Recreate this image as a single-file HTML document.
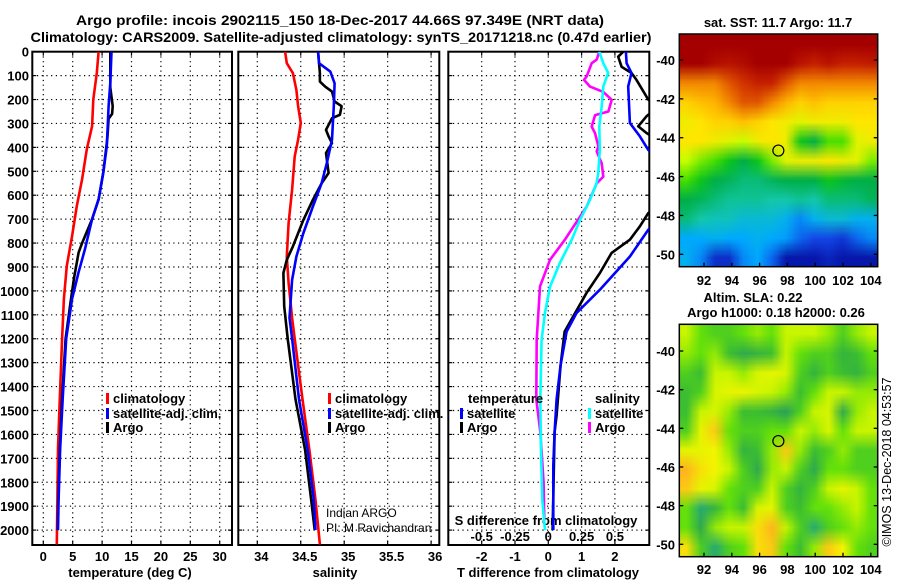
<!DOCTYPE html>
<html><head><meta charset="utf-8"><style>
html,body{margin:0;padding:0;background:#fff;}
#wrap{position:relative;width:900px;height:580px;overflow:hidden;font-family:"Liberation Sans",Arial,sans-serif;}
svg text{font-family:"Liberation Sans",Arial,sans-serif;}
canvas{position:absolute;}
</style></head><body>
<div id="wrap">
<svg id="svg" width="900" height="580" viewBox="0 0 900 580" xmlns="http://www.w3.org/2000/svg">
<text x="340" y="25" text-anchor="middle" font-size="14" font-weight="bold" textLength="528" lengthAdjust="spacingAndGlyphs">Argo profile: incois 2902115_150 18-Dec-2017 44.66S 97.349E (NRT data)</text>
<text x="341" y="42" text-anchor="middle" font-size="14" font-weight="bold" textLength="621" lengthAdjust="spacingAndGlyphs">Climatology: CARS2009. Satellite-adjusted climatology: synTS_20171218.nc (0.47d earlier)</text>
<g id="g"></g>
</svg>
<canvas id="sst" width="199" height="233" style="left:679px;top:34px;width:199px;height:233px"></canvas>
<canvas id="sla" width="199" height="232" style="left:679px;top:324px;width:199px;height:232px"></canvas>
<svg width="900" height="580" style="position:absolute;left:0;top:0" xmlns="http://www.w3.org/2000/svg"><g id="g2"></g></svg>
</div>
<script>
// ---- data ----
const depthTicks = [0,100,200,300,400,500,600,700,800,900,1000,1100,1200,1300,1400,1500,1600,1700,1800,1900,2000];
const tempTicks = [0,5,10,15,20,25,30];
const salTicks = [34,34.5,35,35.5,36];
const salTickLabels = ["34","34.5","35","35.5","36"];
const tdTicks = [-2,-1,0,1,2];
const sdTicks = [-0.5,-0.25,0,0.25,0.5];
const sdTickLabels = ["-0.5","-0.25","0","0.25","0.5"];

const tempClimDepth = [0,89,200,311,408,533,645,770,895,1033,1200,1450,1658,1867,2060];
const tempClim = [9.4,9.1,8.5,8.3,7.4,6.6,5.7,4.9,4.0,3.5,3.2,2.8,2.5,2.4,2.3];
const tempSatDepth = [0,130,228,395,505,617,700,825,922,1033,1200,1450,1665,1874,2000];
const tempSat = [11.6,11.4,11.1,10.8,10.2,9.4,8.3,7.1,6.0,4.9,3.9,3.3,2.85,2.6,2.5];
const tempArgoDepth = [0,150,228,260,280,360,505,617,700,800,840,950,1055,1200,1450,1665,1874,2000];
const tempArgo = [11.4,11.4,11.8,11.7,11.1,10.9,10.2,9.4,8.3,6.6,6.0,5.2,4.6,3.8,3.2,2.8,2.55,2.45];

const salClimDepth = [0,48,90,160,228,298,368,438,577,716,856,967,1113,1200,1453,1665,1874,2060];
const salClim = [34.32,34.34,34.41,34.45,34.47,34.50,34.47,34.43,34.40,34.36,34.34,34.36,34.40,34.43,34.52,34.60,34.67,34.72];
const salSatDepth = [0,48,83,132,228,368,466,550,647,758,856,954,1113,1200,1453,1665,1874,2000];
const salSat = [34.70,34.71,34.84,34.89,34.88,34.86,34.80,34.74,34.64,34.53,34.45,34.40,34.37,34.40,34.48,34.58,34.65,34.67];
const salArgoDepth = [0,90,125,146,167,208,228,264,278,327,354,382,424,507,550,619,703,814,870,925,1064,1200,1453,1665,1874,2000];
const salArgo = [34.70,34.72,34.72,34.78,34.86,34.89,34.97,34.95,34.86,34.79,34.82,34.86,34.79,34.82,34.74,34.64,34.53,34.41,34.34,34.30,34.31,34.35,34.44,34.55,34.62,34.66];

const tdSatDepth = [0,48,89,145,298,354,410,450,700,745,856,995,1092,1170,1310,1453,1590,1730,2000];
const tdSat = [2.33,2.35,2.5,2.4,2.45,2.75,3.0,3.3,3.3,3.0,2.45,1.55,0.85,0.55,0.37,0.25,0.19,0.15,0.15];
const tdArgoDepth = [0,21,63,89,118,200,230,270,312,340,370,640,675,730,786,841,925,1008,1106,1170,1310,1520,1590,2000];
const tdArgo = [2.25,2.1,2.2,2.5,2.65,3.0,3.3,2.95,2.7,2.95,3.3,3.3,3.0,2.75,2.45,1.9,1.55,1.15,0.75,0.49,0.37,0.25,0.19,0.13];
const sdSatDepth = [0,48,89,145,229,312,410,505,548,619,703,786,882,982,1092,1205,1453,1665,1874,2000];
const sdSat = [0.383,0.413,0.45,0.413,0.401,0.383,0.387,0.375,0.363,0.313,0.238,0.176,0.088,0.013,-0.025,-0.05,-0.06,-0.055,-0.045,-0.025];
const sdArgoDepth = [0,33,48,103,118,146,168,201,250,265,313,341,396,417,466,522,550,647,786,870,981,1204,1453,1590,1800,1960];
const sdArgo = [0.383,0.363,0.326,0.288,0.268,0.313,0.413,0.476,0.451,0.351,0.326,0.351,0.376,0.363,0.401,0.413,0.363,0.288,0.125,0.013,-0.062,-0.087,-0.09,-0.06,-0.035,-0.03];

const latTicks = [-40,-42,-44,-46,-48,-50];
const lonTicks = [92,94,96,98,100,102,104];
const argoLon = 97.35, argoLat = -44.66;
const sstGrid = [
[1,1,1,1,1,1,1,1,1,1,1,1,1,1],
[1,1,0.98,0.97,0.98,1,1,1,0.97,0.95,0.97,0.95,0.95,0.96],
[0.85,0.85,0.85,0.9,0.93,0.95,0.95,0.9,0.85,0.85,0.85,0.85,0.85,0.85],
[0.75,0.78,0.8,0.85,0.9,0.9,0.85,0.8,0.75,0.78,0.75,0.75,0.75,0.75],
[0.7,0.72,0.75,0.75,0.78,0.75,0.72,0.7,0.68,0.7,0.7,0.7,0.72,0.72],
[0.72,0.72,0.7,0.68,0.65,0.7,0.72,0.7,0.55,0.5,0.6,0.6,0.68,0.7],
[0.65,0.62,0.6,0.55,0.5,0.55,0.62,0.68,0.7,0.7,0.72,0.7,0.68,0.62],
[0.6,0.55,0.5,0.48,0.45,0.45,0.48,0.5,0.5,0.5,0.55,0.52,0.5,0.5],
[0.5,0.48,0.45,0.42,0.42,0.42,0.4,0.4,0.42,0.4,0.45,0.45,0.45,0.48],
[0.45,0.4,0.38,0.38,0.35,0.35,0.35,0.32,0.25,0.32,0.35,0.35,0.32,0.32],
[0.3,0.3,0.32,0.3,0.3,0.32,0.3,0.28,0.2,0.15,0.15,0.12,0.2,0.25],
[0.32,0.25,0.1,0.1,0.25,0.3,0.2,0.05,0.05,0.05,0.08,0.05,0.05,0.05]];
const slaGrid = [
[0.6,0.5,0.45,0.45,0.5,0.55,0.5,0.6,0.6,0.6,0.55,0.45,0.55,0.6],
[0.55,0.5,0.55,0.4,0.3,0.35,0.4,0.6,0.5,0.45,0.45,0.35,0.4,0.5],
[0.45,0.4,0.6,0.6,0.55,0.65,0.7,0.65,0.45,0.35,0.45,0.4,0.35,0.45],
[0.4,0.45,0.65,0.7,0.72,0.65,0.6,0.55,0.4,0.5,0.6,0.6,0.55,0.55],
[0.4,0.6,0.65,0.55,0.4,0.4,0.35,0.25,0.45,0.6,0.65,0.3,0.55,0.6],
[0.45,0.7,0.85,0.5,0.45,0.45,0.5,0.5,0.6,0.55,0.65,0.5,0.6,0.6],
[0.7,0.7,0.75,0.55,0.35,0.4,0.55,0.85,0.55,0.4,0.45,0.55,0.45,0.45],
[0.9,0.8,0.75,0.6,0.45,0.3,0.55,0.6,0.45,0.3,0.5,0.5,0.45,0.45],
[0.85,0.7,0.65,0.5,0.45,0.45,0.6,0.45,0.35,0.45,0.6,0.7,0.6,0.5],
[0.5,0.2,0.35,0.5,0.4,0.65,0.7,0.45,0.4,0.5,0.5,0.55,0.6,0.5],
[0.5,0.3,0.55,0.6,0.6,0.8,0.9,0.6,0.45,0.2,0.45,0.5,0.55,0.5],
[0.8,0.45,0.2,0.45,0.5,0.8,0.85,0.5,0.4,0.55,0.85,0.75,0.5,0.45]];

// ---- geometry ----
const NS='http://www.w3.org/2000/svg';
const g=document.getElementById('g'), g2=document.getElementById('g2');
const PT=51.7, PB=545;
const yD = d => PT + d*0.2392;
const xT = t => 43.3 + t*5.88;
const xS = s => 257.3 + (s-34)*86.9;
const xTD = t => 548.3 + t*33.3;
const xSD = s => 548.3 + s*133.2;
const panels = [[32.3,232],[238.3,439.3],[448.3,649.3]];
function el(tag,attrs,parent){const e=document.createElementNS(NS,tag);for(const k in attrs)e.setAttribute(k,attrs[k]);(parent||g).appendChild(e);return e;}
function txt(x,y,s,attrs,parent){const e=el('text',Object.assign({x:x,y:y,'font-size':13,'font-weight':'bold'},attrs||{}),parent);e.textContent=s;return e;}

// grids and frames
const gridX=[tempTicks.map(xT), salTicks.map(xS), tdTicks.map(xTD)];
panels.forEach((p,i)=>{
  const pg=el('g',{});
  
  
  el('clipPath',{id:'clip'+i},pg);
  el('rect',{x:p[0],y:PT,width:p[1]-p[0],height:PB-PT},pg.lastChild);
  depthTicks.forEach(d=>{ if(d>0){
    const l=el('line',{x1:p[0],x2:p[1],y1:yD(d),y2:yD(d),stroke:'#000','stroke-width':1.2,'stroke-dasharray':'1.2,3.5'},pg);
    
    
    el('line',{x1:p[0],x2:p[0]+4,y1:yD(d),y2:yD(d),stroke:'#000','stroke-width':1.2},pg);
    el('line',{x1:p[1]-4,x2:p[1],y1:yD(d),y2:yD(d),stroke:'#000','stroke-width':1.2},pg);
  }});
  gridX[i].forEach(x=>{
    const l=el('line',{x1:x,x2:x,y1:PT,y2:PB,stroke:'#000','stroke-width':1.2,'stroke-dasharray':'1.2,3.5'},pg);
    
    
    el('line',{x1:x,x2:x,y1:PB-4,y2:PB,stroke:'#000','stroke-width':1.2},pg);
    el('line',{x1:x,x2:x,y1:PT,y2:PT+4,stroke:'#000','stroke-width':1.2},pg);
  });
  const fr=el('rect',{x:p[0],y:PT,width:p[1]-p[0],height:PB-PT,fill:'none',stroke:'#000','stroke-width':2},pg);
  
  
});
// depth labels
depthTicks.forEach(d=>{
  const t=txt(29,yD(d)+5,String(d),{'text-anchor':'end'});
  
  
});
tempTicks.forEach(v=>{const t=txt(xT(v),561,String(v),{'text-anchor':'middle'});
  
  });
salTicks.forEach((v,i)=>{const t=txt(xS(v)+4,561,salTickLabels[i],{'text-anchor':'middle'});
  
  });
tdTicks.forEach(v=>{const t=txt(xTD(v),561,String(v),{'text-anchor':'middle'});
  
  });
sdTicks.forEach((v,i)=>{const t=txt(xSD(v),541,sdTickLabels[i],{'text-anchor':'middle'});
  
  });
let t;
t=txt(130,577,'temperature (deg C)',{'text-anchor':'middle'});


t=txt(335,577,'salinity',{'text-anchor':'middle'});


t=txt(548,577,'T difference from climatology',{'text-anchor':'middle'});


t=txt(546,525,'S difference from climatology',{'text-anchor':'middle'});


t=txt(326,517,'Indian ARGO',{'font-weight':'normal','font-size':12});


t=txt(326,532,'PI: M Ravichandran',{'font-weight':'normal','font-size':12});



// series
function series(depths,vals,xf,color,panel,name){
  const pts=depths.map((d,i)=>xf(vals[i]).toFixed(1)+','+yD(d).toFixed(1)).join(' ');
  const p=el('polyline',{points:pts,fill:'none',stroke:color,'stroke-width':2.6,'stroke-linejoin':'round','clip-path':'url(#clip'+panel+')'});
  
  
}
series(tempClimDepth,tempClim,xT,'#ff0000',0,'temperature-climatology-line');
series(tempArgoDepth,tempArgo,xT,'#000000',0,'temperature-argo-line');
series(tempSatDepth,tempSat,xT,'#0000ff',0,'temperature-satellite-line');
series(salClimDepth,salClim,xS,'#ff0000',1,'salinity-climatology-line');
series(salArgoDepth,salArgo,xS,'#000000',1,'salinity-argo-line');
series(salSatDepth,salSat,xS,'#0000ff',1,'salinity-satellite-line');
series(sdArgoDepth,sdArgo,xSD,'#ff00ff',2,'s-diff-argo-line');
series(sdSatDepth,sdSat,xSD,'#00ffff',2,'s-diff-satellite-line');
series(tdArgoDepth,tdArgo,xTD,'#000000',2,'t-diff-argo-line');
series(tdSatDepth,tdSat,xTD,'#0000ff',2,'t-diff-satellite-line');

// legends
function legItem(x,y,color,label,name){
  const lg=el('g',{});
  
  
  if(color) el('rect',{x:x,y:y-10,width:3,height:11,fill:color},lg);
  txt(x+(color?7:0),y,label,{},lg);
}
legItem(106,403,'#ff0000','climatology','legend-temp-climatology');
legItem(106,418,'#0000ff','satellite-adj. clim.','legend-temp-satellite');
legItem(106,432,'#000000','Argo','legend-temp-argo');
legItem(328,403,'#ff0000','climatology','legend-sal-climatology');
legItem(328,418,'#0000ff','satellite-adj. clim.','legend-sal-satellite');
legItem(328,432,'#000000','Argo','legend-sal-argo');
legItem(468,403,null,'temperature','legend-temperature-header');
legItem(460,418,'#0000ff','satellite','legend-tdiff-satellite');
legItem(460,432,'#000000','Argo','legend-tdiff-argo');
legItem(595,403,null,'salinity','legend-salinity-header');
legItem(588,418,'#00ffff','satellite','legend-sdiff-satellite');
legItem(588,432,'#ff00ff','Argo','legend-sdiff-argo');

// ---- maps ----
function lerpStops(stops,v){
  v=Math.max(0,Math.min(1,v));
  for(let i=1;i<stops.length;i++){ if(v<=stops[i][0]){
    const a=stops[i-1],b=stops[i],f=(v-a[0])/(b[0]-a[0]||1);
    return [0,1,2].map(k=>Math.round(a[1][k]+(b[1][k]-a[1][k])*f));}}
  return stops[stops.length-1][1];
}
const sstStops=[[0,[0,0,140]],[0.15,[20,70,230]],[0.3,[0,170,255]],[0.4,[20,200,170]],[0.5,[0,175,70]],[0.58,[20,210,0]],[0.65,[200,255,0]],[0.72,[255,230,0]],[0.8,[255,180,0]],[0.88,[235,110,0]],[0.94,[205,40,0]],[1,[165,0,0]]];
const slaStops=[[0,[40,210,210]],[0.25,[40,160,90]],[0.4,[60,190,50]],[0.5,[100,225,10]],[0.6,[200,245,0]],[0.75,[245,245,0]],[0.9,[255,180,30]],[1,[255,140,0]]];
function drawMap(id,grid,stops){
  const c=document.getElementById(id),ctx=c.getContext('2d');
  const rows=grid.length,cols=grid[0].length;
  const s=document.createElement('canvas');s.width=cols;s.height=rows;
  const sc=s.getContext('2d'),img=sc.createImageData(cols,rows);
  grid.forEach((r,i)=>r.forEach((v,j)=>{const col=lerpStops(stops,v),o=(i*cols+j)*4;
    img.data[o]=col[0];img.data[o+1]=col[1];img.data[o+2]=col[2];img.data[o+3]=255;}));
  sc.putImageData(img,0,0);
  ctx.imageSmoothingEnabled=true;
  ctx.drawImage(s,0,0,c.width,c.height);
}
drawMap('sst',sstGrid,sstStops);
drawMap('sla',slaGrid,slaStops);

function mapAxes(top,bottom,latY0,latScale,labelY,name){
  const L=679.3,R=877.7;
  const lonX=v=>704+(v-92)*13.9, latY=v=>latY0+(-40-v)*latScale;
  const mg=el('g',{},g2);
  
  
  el('rect',{x:L,y:top,width:R-L,height:bottom-top,fill:'none',stroke:'#000','stroke-width':1.5},mg);
  latTicks.forEach(v=>{const y=latY(v);
    el('line',{x1:R,x2:R-4,y1:y,y2:y,stroke:'#000','stroke-width':1.3},mg);
    el('line',{x1:L,x2:L+4,y1:y,y2:y,stroke:'#000','stroke-width':1.3},mg);
    txt(675,y+5,String(v),{'text-anchor':'end'},mg);});
  lonTicks.forEach(v=>{const x=lonX(v);
    el('line',{x1:x,x2:x,y1:bottom,y2:bottom-4,stroke:'#000','stroke-width':1.3},mg);
    txt(x,labelY,String(v),{'text-anchor':'middle'},mg);});
  const c=el('circle',{cx:lonX(argoLon),cy:latY(argoLat),r:5.5,fill:'none',stroke:'#000','stroke-width':1.2},mg);
  
  
}
mapAxes(34,266.7,60,19.43,285,'sst-map-axes');
mapAxes(324.3,556.7,351,19.33,574,'sla-map-axes');
t=txt(778,27,'sat. SST: 11.7 Argo: 11.7',{'text-anchor':'middle'},g2);


t=txt(753,302,'Altim. SLA: 0.22',{'text-anchor':'middle'},g2);


t=txt(776,317,'Argo h1000: 0.18 h2000: 0.26',{'text-anchor':'middle'},g2);


t=txt(0,0,'©IMOS 13-Dec-2018 04:53:57',{'font-weight':'normal','font-size':12.5,'text-anchor':'middle',transform:'translate(891,462) rotate(-90)'},g2);


</script>
</body></html>
